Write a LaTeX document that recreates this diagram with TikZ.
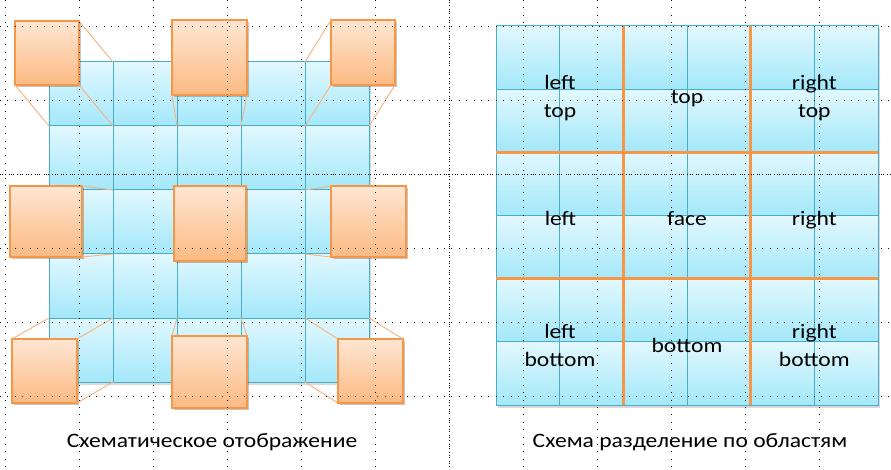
\documentclass[tikz,border=0pt]{standalone}
\usepackage{fontspec}
\setmainfont{Carlito}[FakeStretch=1.15]
\usetikzlibrary{shadows}
\definecolor{cellTop}{HTML}{E2F8FE}
\definecolor{cellBot}{HTML}{A3E8FA}
\definecolor{cellLine}{HTML}{4BACC6}
\definecolor{orTop}{HTML}{FEE6D3}
\definecolor{orBot}{HTML}{FCBA82}
\definecolor{orLine}{HTML}{F79646}
\definecolor{conLine}{HTML}{F9B27C}
\begin{document}
\begin{tikzpicture}[x=1pt,y=-1pt,
  cell/.style={top color=cellTop,bottom color=cellBot,draw=cellLine,line width=1pt},
  gridshadow/.style={fill=black,opacity=0.15},
  osq/.style={draw=orLine,line width=1.2pt,top color=orTop,bottom color=orBot,
    inner sep=0pt,outer sep=0pt,
    drop shadow={shadow xshift=1.5pt,shadow yshift=-1.8pt,opacity=0.22,fill=black}},
  conn/.style={draw=conLine,line width=0.9pt},
  divline/.style={draw=orLine,line width=3pt},
  lbl/.style={font=\fontsize{20.5}{27.4}\selectfont,align=center,inner sep=0pt,text=black},
  captxt/.style={font=\fontsize{20.5}{24}\selectfont,inner sep=0pt,text=black},
  gridline/.style={draw=black,line width=0.9pt,dash pattern=on 0.9pt off 6.5pt},
  centerline/.style={draw=black,line width=0.9pt,dash pattern=on 0.9pt off 1.4pt on 0.9pt off 1.4pt on 0.9pt off 3.2pt}]
\useasboundingbox (0,0) rectangle (891,470);
\fill[white] (0,0) rectangle (891,470);

% ---------- left: 5x5 grid ----------
\fill[gridshadow] (51,64) rectangle (371,385);
\foreach \i in {0,...,4}{
  \foreach \j in {0,...,4}{
    \path[cell] (49+64*\i,62+64*\j) rectangle ++(64,64);
  }
}
\foreach \i in {0,...,5}{
  \foreach \j in {0,...,5}{
    \coordinate (g\i\j) at (49+64*\i,62+64*\j);
  }
}

% orange squares (lifted cells)
\node[osq,minimum width=64pt,minimum height=64pt] (tl) at (47,53) {};
\node[osq,minimum width=75pt,minimum height=75pt] (tm) at (209.5,57.5) {};
\node[osq,minimum width=64pt,minimum height=65pt] (tr) at (363,52.5) {};
\node[osq,minimum width=72pt,minimum height=71pt] (ml) at (46,221.5) {};
\node[osq,minimum width=72pt,minimum height=75pt] (mm) at (210,223.5) {};
\node[osq,minimum width=75pt,minimum height=71pt] (mr) at (368.5,221.5) {};
\node[osq,minimum width=65pt,minimum height=64pt] (bl) at (44.5,371) {};
\node[osq,minimum width=75pt,minimum height=72pt] (bm) at (209.5,372) {};
\node[osq,minimum width=65pt,minimum height=64pt] (br) at (370.5,371) {};

% connectors
\path[conn] (tl.north east) -- (g10) (tl.south east) -- (g11) (tl.south west) -- (g01);
\path[conn] (tm.south west) -- (g21) (tm.south east) -- (g31);
\path[conn] (tr.north west) -- (g40) (tr.south west) -- (g41) (tr.south east) -- (g51);
\path[conn] (ml.north east) -- (g12) (ml.south east) -- (g13);
\path[conn] (mr.north west) -- (g42) (mr.south west) -- (g43);
\path[conn] (bl.north west) -- (g04) (bl.north east) -- (g14) (bl.south east) -- (g15);
\path[conn] (bm.north west) -- (g24) (bm.north east) -- (g34);
\path[conn] (br.north west) -- (g44) (br.north east) -- (g54) (br.south west) -- (g45);

% ---------- right: 6x6 grid ----------
\fill[gridshadow] (498,28) rectangle (880,408);
\foreach \i in {0,...,5}{
  \foreach \j in {0,...,5}{
    \path[cell] (496+63.667*\i,26+63.167*\j) rectangle ++(63.667,63.167);
  }
}
\foreach \i in {0,...,6}{
  \foreach \j in {0,...,6}{
    \coordinate (r\i\j) at (496+63.667*\i,26+63.167*\j);
  }
}
\path[divline] (r20) -- (r26) (r40) -- (r46) (r02) -- (r62) (r04) -- (r64);

% labels
\node[lbl] (lt) at (560,98.2) {left\\top};
\node[lbl,anchor=base] (tp) at (687,103.3) {top};
\node[lbl] (rt) at (814.3,98.2) {right\\top};
\node[lbl,anchor=base] (lf) at (560.5,225.3) {left};
\node[lbl,anchor=base] (fc) at (687,225.3) {face};
\node[lbl,anchor=base] (rg) at (814.3,225.3) {right};
\node[lbl] (lb) at (560,345.5) {left\\bottom};
\node[lbl,anchor=base] (bt) at (687,352.7) {bottom};
\node[lbl] (rb) at (814.3,345.5) {right\\bottom};

% captions
\node[captxt,anchor=base] (capL) at (212,447) {Схематическое отображение};
\node[captxt,anchor=base] (capR) at (690,447) {Схема разделение по областям};

% ---------- dotted guide grid on top ----------
\foreach \k in {0,1,2,3,4,5,7,8,9,10,11}{
  \path[gridline] (5+74*\k,0) -- (5+74*\k,470);
}
\foreach \k in {0,1,3,4,5}{
  \path[gridline] (0,26+74*\k) -- (891,26+74*\k);
}
\path[centerline] (449,0) -- (449,470);
\path[centerline] (0,174) -- (891,174);
\end{tikzpicture}
\end{document}
